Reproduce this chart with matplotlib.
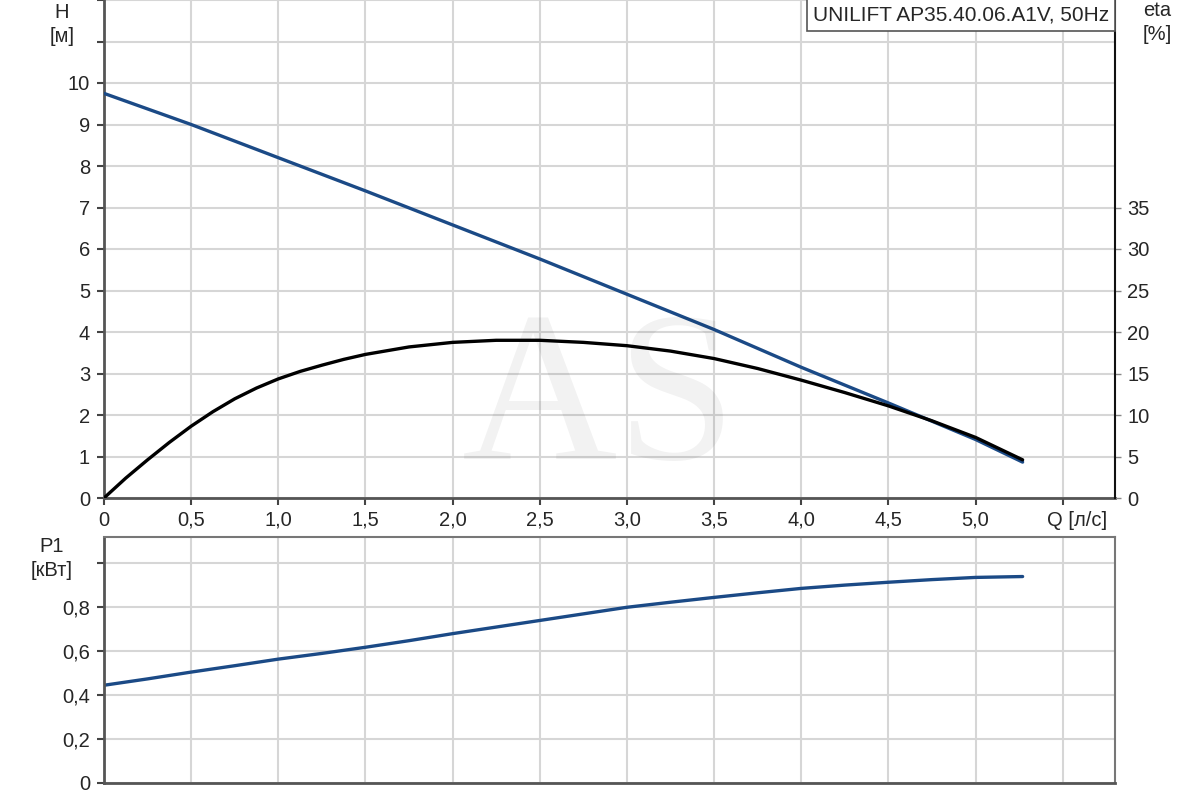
import matplotlib
matplotlib.use("Agg")
import matplotlib.pyplot as plt

plt.rcParams['font.family'] = ['Liberation Sans', 'DejaVu Sans']

# Data
q = [0.0, 0.5, 1.0, 1.5, 2.0, 2.5, 3.0, 3.5, 4.0, 4.5, 5.0, 5.27]
head = [9.75, 9.0, 8.2, 7.4, 6.58, 5.76, 4.91, 4.06, 3.15, 2.29, 1.41, 0.865]
q_eta = [0.0, 0.125, 0.25, 0.375, 0.5, 0.625, 0.75, 0.875, 1.0, 1.125, 1.25,
         1.375, 1.5, 1.75, 2.0, 2.25, 2.5, 2.75,
         3.0, 3.25, 3.5, 3.75, 4.0, 4.25, 4.5, 4.75, 5.0, 5.27]
eta = [0.0, 2.4, 4.6, 6.7, 8.65, 10.4, 11.95, 13.25, 14.35, 15.25, 16.0,
       16.7, 17.3, 18.2, 18.75, 19.0, 19.0, 18.75,
       18.35, 17.7, 16.8, 15.6, 14.2, 12.7, 11.1, 9.3, 7.3, 4.6]
q_p = [0.0, 0.25, 0.5, 0.75, 1.0, 1.25, 1.5, 1.75, 2.0, 2.25, 2.5, 2.75, 3.0,
       3.25, 3.5, 3.75, 4.0, 4.25, 4.5, 4.75, 5.0, 5.27]
p1 = [0.445, 0.474, 0.505, 0.534, 0.564, 0.59, 0.618, 0.648, 0.68, 0.71, 0.74,
      0.77, 0.80, 0.823, 0.845, 0.866, 0.886, 0.901, 0.914, 0.926, 0.936, 0.94]

x_ticks = [0, 0.5, 1.0, 1.5, 2.0, 2.5, 3.0, 3.5, 4.0, 4.5, 5.0, 5.5]
x_labels = ['0', '0,5', '1,0', '1,5', '2,0', '2,5', '3,0', '3,5', '4,0', '4,5', '5,0', '']
h_ticks = list(range(0, 13))
h_labels = [str(v) if v <= 10 else '' for v in h_ticks]
eta_ticks = list(range(0, 40, 5))
p_ticks = [0, 0.2, 0.4, 0.6, 0.8, 1.0]
p_labels = ['0', '0,2', '0,4', '0,6', '0,8', '']
title = "UNILIFT AP35.40.06.A1V, 50Hz"

blue = '#1b4a86'
grid_c = '#d6d6d6'
txt_c = '#262626'
fs = 14.5

fig = plt.figure(figsize=(12, 8), dpi=100)
ax = fig.add_axes([104/1200, 1-498/800, (1115-104)/1200, 498/800])
ax2 = ax.twinx()
axp = fig.add_axes([104/1200, 1-783/800, (1115-104)/1200, (783-537)/800])

# watermark
fig.text(600/1200, 1-408/800, 'AS', fontsize=155, color='#000000', alpha=0.05,
         family=['Liberation Serif', 'DejaVu Serif'], ha='center', va='center', zorder=0)

for a in (ax, axp):
    a.set_xlim(0, 5.8)
    a.set_xticks(x_ticks)
    a.grid(True, color=grid_c, linewidth=1.5)
    a.set_axisbelow(True)

ax.set_ylim(0, 12)
ax.set_yticks(h_ticks)
ax.set_yticklabels(h_labels)
ax.set_xticklabels(x_labels)
ax2.set_ylim(0, 60)
ax2.set_yticks(eta_ticks)

axp.set_ylim(0, 1.12)
axp.set_yticks(p_ticks)
axp.set_yticklabels(p_labels)
axp.set_xticklabels([])

ax.plot(q, head, color=blue, linewidth=2.4, solid_capstyle='round', solid_joinstyle='round', zorder=3)
ax2.plot(q_eta, eta, color='black', linewidth=2.4, solid_capstyle='round', solid_joinstyle='round', zorder=3)
axp.plot(q_p, p1, color=blue, linewidth=2.4, solid_capstyle='round', solid_joinstyle='round')

# spines
ax.spines['top'].set_visible(False)
ax2.spines['top'].set_visible(False)
ax2.spines['left'].set_visible(False)
ax2.spines['bottom'].set_visible(False)
ax.spines['right'].set_visible(False)
ax.spines['left'].set_color('#555555'); ax.spines['left'].set_linewidth(2)
ax.spines['bottom'].set_color('#555555'); ax.spines['bottom'].set_linewidth(2)
ax2.spines['right'].set_color('#111111'); ax2.spines['right'].set_linewidth(1.5)
for s in ('left', 'bottom'):
    axp.spines[s].set_color('#555555'); axp.spines[s].set_linewidth(2)
for s in ('top', 'right'):
    axp.spines[s].set_color('#777777'); axp.spines[s].set_linewidth(1.5)

ax.tick_params(axis='y', direction='out', length=5, width=1.5, color='#444444',
               labelsize=fs, labelcolor=txt_c, pad=5)
ax.tick_params(axis='x', direction='out', length=5, width=1.5, color='#444444',
               labelsize=fs, labelcolor=txt_c, pad=4)
ax2.tick_params(axis='y', direction='out', length=4, width=1, color='#888888',
                labelsize=fs, labelcolor=txt_c, pad=5)
axp.tick_params(axis='y', direction='out', length=5, width=1.5, color='#444444',
                labelsize=fs, labelcolor=txt_c, pad=5)
axp.tick_params(axis='x', length=0)

# axis captions
fig.text(62/1200, 1-12/800, 'H', fontsize=fs, color=txt_c, ha='center', va='center')
fig.text(62/1200, 1-36/800, '[м]', fontsize=fs, color=txt_c, ha='center', va='center')
fig.text(1157/1200, 1-11/800, 'eta', fontsize=fs, color=txt_c, ha='center', va='center')
fig.text(1157/1200, 1-34/800, '[%]', fontsize=fs, color=txt_c, ha='center', va='center')
fig.text(52/1200, 1-546/800, 'P1', fontsize=fs, color=txt_c, ha='center', va='center')
fig.text(52/1200, 1-570/800, '[кВт]', fontsize=fs, color=txt_c, ha='center', va='center')
fig.text(1077/1200, 1-520/800, 'Q [л/с]', fontsize=fs, color=txt_c, ha='center', va='center')

# title box
fig.text(1109/1200, 1-15/800, title, fontsize=15, color=txt_c, ha='right', va='center',
         bbox=dict(boxstyle='square,pad=0.3', facecolor='white', edgecolor='#555555', linewidth=1.2),
         zorder=10)

fig.savefig('out.png', dpi=100)
